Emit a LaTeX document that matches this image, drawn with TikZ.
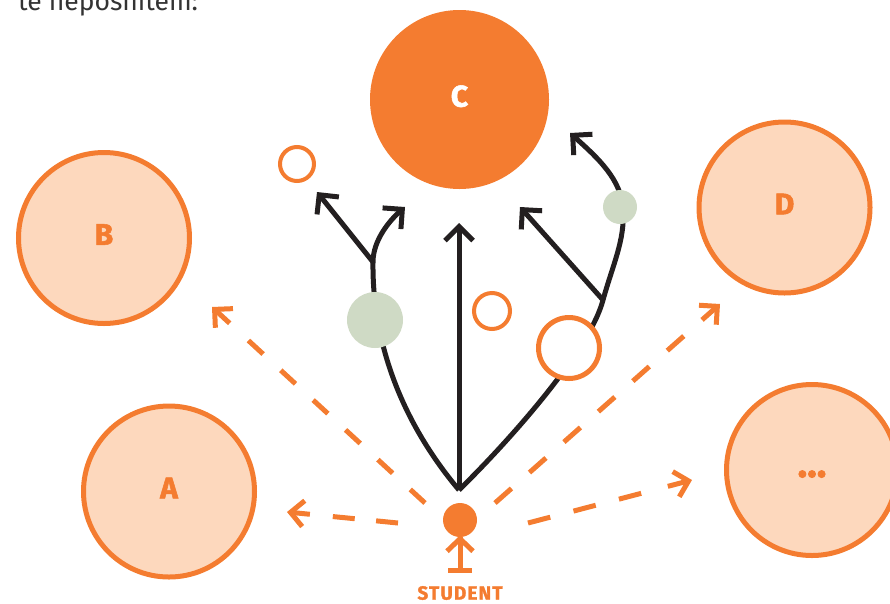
\documentclass[tikz,border=0pt]{standalone}
\usepackage{fontspec}
\setmainfont{Fira Sans}
\newfontfamily\heavyfont{Fira Sans}[BoldFeatures={FakeBold=1.8}]
\newfontfamily\studfont{Fira Sans}[LetterSpace=6,BoldFeatures={FakeBold=1.5}]
\usetikzlibrary{arrows.meta,calc}
\definecolor{org}{HTML}{F47C30}
\definecolor{peach}{HTML}{FDD8BD}
\definecolor{sage}{HTML}{CFDAC5}
\definecolor{ink}{HTML}{231F20}
\definecolor{captxt}{HTML}{333333}
\tikzset{
 big/.style={circle, draw=org, fill=peach, line width=5pt, minimum size=171pt, inner sep=0pt,
   text=org, text depth=7pt, font=\heavyfont\bfseries\fontsize{30}{32}\selectfont},
 ring/.style={circle, draw=org, fill=white, line width=4pt, inner sep=0pt},
 dotg/.style={circle, fill=sage, inner sep=0pt},
 blk/.style={draw=ink, line width=5pt, line cap=butt,
   -{Straight Barb[length=14pt,width=28pt,line join=miter,line cap=butt]}},
 odash/.style={draw=org, line width=5pt, line cap=butt},
 ostem/.style={draw=org, line width=5pt, line cap=butt,
   -{Straight Barb[length=13pt,width=26pt,line join=miter,line cap=butt]}},
 stick/.style={draw=org, line width=5pt, line cap=butt, line join=miter},
}
\begin{document}
\begin{tikzpicture}[x=1pt,y=-1pt]
\useasboundingbox (0,0) rectangle (890,603);
\node[anchor=base west, text=captxt, font=\fontsize{26.5}{30}\selectfont, inner sep=0pt] (cap) at (18,10) {te neposnitem:};

% black connector points
\coordinate (O) at (459,490);
\coordinate (Lb) at (373,262);
\coordinate (L1) at (317,192);
\coordinate (L2) at (405,207);
\coordinate (Ct) at (459,223);
\coordinate (Rb) at (603,300);
\coordinate (R1) at (520,207);
\coordinate (R2) at (570,133);
\coordinate (Rm) at (623,210);

\draw[blk] (O) .. controls (400,420) and (372,340) .. (Lb) .. controls (373,240) and (390,220) .. (L2);
\draw[blk] (Lb) -- (L1);
\draw[blk] (O) -- (Ct);
\draw[blk] (O) .. controls (510,440) and (590,350) .. (Rb) .. controls (613,264) and (625,240) .. (Rm) .. controls (622,180) and (598,158) .. (R2);
\draw[blk] (Rb) -- (R1);

% big circles
\node[big] (B) at (104,238) {B};
\node[big] (A) at (169,491.5) {A};
\node[big] (D) at (784.5,207.5) {D};
\node[big, text height=14pt, text depth=0pt, font=\heavyfont\bfseries\fontsize{40}{44}\selectfont] (E) at (812,470) {...};
\node[circle, fill=org, minimum size=179pt, inner sep=0pt, text=white, text depth=7pt,
  font=\heavyfont\bfseries\fontsize{30}{32}\selectfont] (C) at (459.5,99.5) {C};

% small circles
\node[ring, minimum size=34pt] (r1) at (297,164) {};
\node[dotg, minimum size=56pt] (g1) at (375,320) {};
\node[ring, minimum size=36pt] (r2) at (492,311) {};
\node[ring, line width=5pt, minimum size=61pt] (r3) at (569,348) {};
\node[dotg, minimum size=34pt] (g2) at (620,207) {};

% student
\node[circle, fill=org, minimum size=34pt, inner sep=0pt] (stu) at (460,520) {};
\coordinate (foot) at (460,573);
\draw[stick] (stu.south) -- (foot);
\draw[stick] ($(foot)+(-12,-2.5)$) -- ($(foot)+(12,-2.5)$);
\draw[stick] ($(stu.south)+(-13,14)$) -- ($(stu.south)+(0,1.5)$) -- ($(stu.south)+(13,14)$);
\node[text=org, font=\studfont\bfseries\fontsize{19}{22}\selectfont, inner sep=0pt] (lab) at (460,593) {STUDENT};

% dashed orange arrows
\coordinate (sB) at (425,503); \coordinate (tB) at (212,307);
\coordinate (sA) at (398,523); \coordinate (tA) at (287,512);
\coordinate (sD) at (495,503); \coordinate (tD) at (720,304);
\coordinate (sE) at (528,523); \coordinate (tE) at (692,480);

\draw[odash, dash pattern=on 20pt off 24pt] (sB) -- ($(tB)!48pt!(sB)$);
\draw[ostem] ($(tB)!24pt!(sB)$) -- (tB);
\draw[odash, dash pattern=on 22pt off 21.5pt] (sA) -- ($(tA)!46pt!(sA)$);
\draw[ostem] ($(tA)!23pt!(sA)$) -- (tA);
\draw[odash, dash pattern=on 22pt off 24pt] (sD) -- ($(tD)!48pt!(sD)$);
\draw[ostem] ($(tD)!24pt!(sD)$) -- (tD);
\draw[odash, dash pattern=on 23pt off 24pt] (sE) -- ($(tE)!52pt!(sE)$);
\draw[ostem] ($(tE)!25pt!(sE)$) -- (tE);
\end{tikzpicture}
\end{document}
